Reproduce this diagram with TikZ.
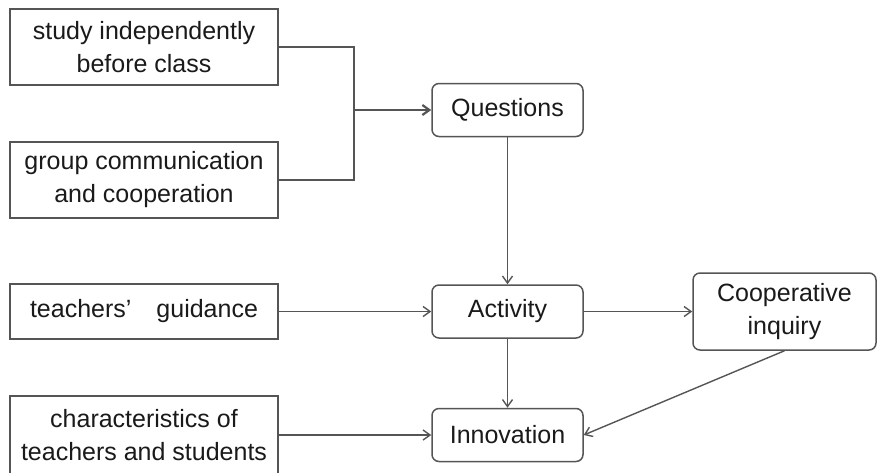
\documentclass[tikz,border=0pt]{standalone}
\usepackage{fontspec}
\setmainfont{Liberation Sans}
\usetikzlibrary{arrows.meta}
\definecolor{linegray}{HTML}{555555}
\definecolor{txt}{HTML}{1A1A1A}
\begin{document}
\begin{tikzpicture}[x=0.5pt,y=-0.5pt,
  every node/.style={font=\fontsize{12.5}{16.5}\selectfont, text=txt, align=center, inner sep=0pt},
  sqbox/.style={draw=linegray, line width=0.75pt, minimum width=134pt},
  rbox/.style={draw=linegray, line width=0.75pt, rounded corners=3.5pt, minimum width=75.5pt, minimum height=26.5pt},
  conn/.style={draw=linegray, line width=0.7pt},
  arr/.style={conn, -{Straight Barb[length=3.5pt,width=5pt]}}
]
\useasboundingbox[fill=white] (0,0) rectangle (877,472);
\node[sqbox, minimum height=38pt] (b1) at (144,47) {study independently\\before class};
\node[sqbox, minimum height=38pt] (b2) at (144,180) {group communication\\and cooperation};
\node[sqbox, minimum height=27.5pt] (tg) at (144,311.5) {teachers'\quad guidance};
\node[sqbox, minimum height=39pt] (ch) at (144,435) {characteristics of\\teachers and students};
\node[rbox] (q) at (507.5,110) {Questions};
\node[rbox] (a) at (507.5,311.5) {Activity};
\node[rbox] (inn) at (507.5,435) {Innovation};
\node[rbox, minimum width=91.5pt, minimum height=38.5pt] (ci) at (784.5,311.5) {Cooperative\\inquiry};
\coordinate (j) at (354,110);
\draw[conn] (b1.east) -| (j) |- (b2.east);
\draw[arr, line width=1.1pt] (j) -- (q.west);
\draw[arr] (q.south) -- (a.north);
\draw[arr] (tg.east) -- (a.west);
\draw[arr] (a.east) -- (ci.west);
\draw[arr] (a.south) -- (inn.north);
\draw[arr] (ch.east) -- (inn.west);
\draw[arr] (ci.south) -- (inn.east);
\end{tikzpicture}
\end{document}
